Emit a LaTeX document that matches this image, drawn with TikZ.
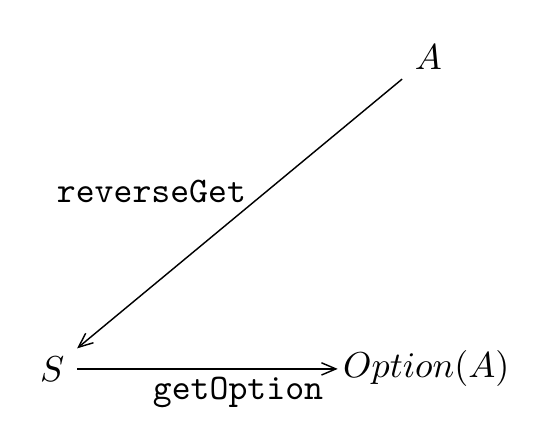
\documentclass[tikz,border=0pt]{standalone}
\usetikzlibrary{arrows.meta}
\begin{document}
\begin{tikzpicture}[scale=1, >={Straight Barb[length=4pt, width=3.4pt]}]
	\useasboundingbox (0,0) rectangle (5.25,4.24);
	\node (A) at (4.18,3.68) {$A$};
	\node (S) at (0.51,0.64) {$S$};
	\node (opt) at (4.16,0.64) {$Option(A)$};
	\draw [->] (A) -- (S) node[pos=0.5, above left, xshift=5.3pt, yshift=-0.5pt]{\texttt{reverseGet}};
	\draw [->, shorten >=-2pt] (S) -- (opt) node[pos=0.635, below, yshift=1.2pt]{\texttt{getOption}};
\end{tikzpicture}
\end{document}
